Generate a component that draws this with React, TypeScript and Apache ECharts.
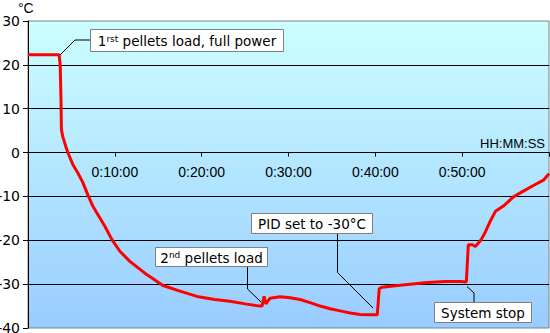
import React, { useEffect, useRef } from "react";
import * as echarts from "echarts";

// time in minutes since start
const timeMin: number[] = [
  0, 3.58, 3.71, 3.8, 3.85, 4.0, 4.35, 4.69, 5.16, 5.73, 6.31, 6.88, 7.46, 8.04, 8.85, 9.65,
  10.58, 11.73, 13.46, 15.54, 17.5, 19.46, 21.5, 23.26, 25.0, 26.37, 26.95, 27.19, 27.4, 27.88,
  29.03, 30.18, 31.34, 32.49, 33.64, 34.8, 35.95, 37.1, 38.25, 39.4, 40.22, 40.45, 40.8, 42.06,
  44.02, 46.0, 48.06, 49.79, 50.48, 50.71, 51.18, 51.52, 52.21, 52.67, 53.25, 53.83, 54.75,
  55.9, 57.05, 58.2, 59.36, 60.0,
];
// temperature in °C
const tempC: number[] = [
  22.3, 22.3, 20, 12, 5.2, 3.7, 1.4, -0.5, -2.7, -4.6, -6.8, -9.6, -12.2, -14.1, -16.8, -19.8,
  -22.5, -24.8, -27.5, -30.3, -31.6, -32.8, -33.5, -33.9, -34.5, -34.9, -35.0, -32.8, -34.5, -33.2,
  -32.9, -33.1, -33.5, -34.2, -35.0, -35.6, -36.1, -36.6, -36.9, -37.0, -37.0, -31.0, -30.7, -30.4,
  -30.0, -29.6, -29.4, -29.4, -29.5, -21.0, -21.0, -21.4, -19.8, -18.1, -15.6, -13.4, -12.2,
  -10.1, -8.8, -7.5, -6.3, -4.8,
];
const xTickMinutes: number[] = [10, 20, 30, 40, 50];
const yTicks: number[] = [-40, -30, -20, -10, 0, 10, 20, 30];

const annotations = [
  { pre: "1", sup: "rst", post: " pellets load, full power" },
  { pre: "2", sup: "nd", post: " pellets load" },
  { pre: "PID set to -30°C", sup: "", post: "" },
  { pre: "System stop", sup: "", post: "" },
];

const FONT = "DejaVu Sans, Verdana, sans-serif";
const AXFONT = "Liberation Sans, Arial, sans-serif";

function richText(a: { pre: string; sup: string; post: string }) {
  if (!a.sup) return "{n|" + a.pre + "}";
  return "{n|" + a.pre + "}{s|" + a.sup + "}{n|" + a.post + "}";
}

export default function App() {
  const ref = useRef<HTMLDivElement>(null);
  useEffect(() => {
    if (!ref.current) return;
    const chart = echarts.init(ref.current, undefined, { renderer: "svg" });
    const data = timeMin.map((t, i) => [t, tempC[i]]);
    const rich = {
      n: { fontSize: 13.5, fontFamily: FONT, color: "#000" },
      s: { fontSize: 9, fontFamily: FONT, color: "#000", verticalAlign: "top" as const },
    };
    const boxes = [
      { x: 90.5, y: 29.5, w: 193, h: 22 },
      { x: 155.5, y: 247.5, w: 112, h: 19 },
      { x: 251.5, y: 213.5, w: 121, h: 20 },
      { x: 434.5, y: 302.5, w: 97, h: 20 },
    ];
    const leaders = [
      [[60, 55], [75, 40], [90.5, 40]],
      [[247.5, 266.5], [247.5, 289], [261, 302]],
      [[337.5, 233.5], [337.5, 272.5], [373, 308]],
      [[467, 286.5], [474, 293], [474, 302.5]],
    ];
    const gridTop = 21;
    const gridBottomY = 328;
    const yMin = yTicks[0];
    const yMax = yTicks[yTicks.length - 1];
    const zeroY = gridTop + ((yMax - 0) / (yMax - yMin)) * (gridBottomY - gridTop);

    const graphic: any[] = [];
    leaders.forEach((pts) => {
      graphic.push({
        type: "polyline",
        z: 100,
        shape: { points: pts },
        style: { stroke: "#000", lineWidth: 1, fill: "none" },
      });
    });
    boxes.forEach((b, i) => {
      graphic.push({
        type: "rect",
        z: 101,
        shape: { x: b.x, y: b.y, width: b.w, height: b.h },
        style: { fill: "#fff", stroke: "#808080", lineWidth: 1 },
      });
      graphic.push({
        type: "text",
        z: 102,
        x: b.x + b.w / 2,
        y: b.y + b.h / 2 + 0.5,
        style: {
          text: richText(annotations[i]),
          rich,
          align: "center",
          verticalAlign: "middle",
        },
      });
    });
    graphic.push({
      type: "text",
      x: 545,
      y: 143,
      style: {
        text: "HH:MM:SS",
        fontSize: 13,
        fontFamily: AXFONT,
        fill: "#000",
        align: "right",
        verticalAlign: "middle",
      },
    });
    graphic.push({
      type: "text",
      x: 18,
      y: 8,
      style: {
        text: "°C",
        fontSize: 14,
        fontFamily: AXFONT,
        fill: "#000",
        align: "left",
        verticalAlign: "middle",
      },
    });

    chart.setOption({
      animation: false,
      backgroundColor: "#fff",
      grid: {
        left: 28,
        top: gridTop,
        right: 1,
        bottom: 333 - gridBottomY,
        containLabel: false,
        outerBoundsMode: "none",
        show: true,
        borderColor: "#808080",
        borderWidth: 1,
        backgroundColor: new echarts.graphic.LinearGradient(0, 0, 0, 1, [
          { offset: 0, color: "#CCFFFF" },
          { offset: 1, color: "#99CCFF" },
        ]),
      },
      xAxis: {
        type: "value",
        min: 0,
        max: 60,
        interval: 10,
        position: "bottom",
        offset: -(gridBottomY - zeroY),
        axisLine: { onZero: false, lineStyle: { color: "#000", width: 1 } },
        axisTick: { show: true, length: 4, lineStyle: { color: "#000" } },
        splitLine: { show: false },
        axisLabel: {
          margin: 12,
          fontSize: 14,
          fontFamily: AXFONT,
          color: "#000",
          formatter: (v: number) =>
            xTickMinutes.indexOf(v) >= 0 ? "0:" + v + ":00" : "",
        },
      },
      yAxis: {
        type: "value",
        min: yMin,
        max: yMax,
        interval: 10,
        axisLine: { show: true, lineStyle: { color: "#000", width: 1 } },
        axisTick: { show: true, length: 5, lineStyle: { color: "#000" } },
        splitLine: {
          show: true,
          showMinLine: false,
          showMaxLine: false,
          lineStyle: { color: "#000", width: 1 },
        },
        axisLabel: {
          margin: 8,
          fontSize: 14,
          fontFamily: FONT,
          color: "#000",
        },
      },
      series: [
        {
          type: "line",
          data,
          showSymbol: false,
          lineStyle: { color: "#FF0000", width: 3 },
          z: 5,
        },
      ],
      graphic,
    });
    return () => chart.dispose();
  }, []);
  return (
    <div
      ref={ref}
      style={{ position: "fixed", left: 0, top: 0, width: 550, height: 333 }}
    />
  );
}
